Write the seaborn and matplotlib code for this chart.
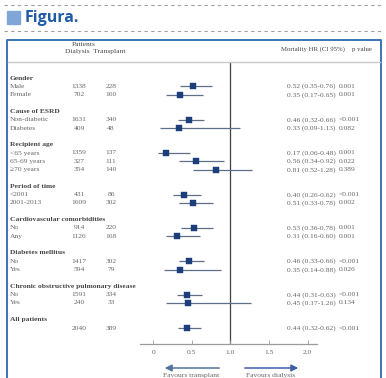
import matplotlib
matplotlib.use("Agg")
import matplotlib.pyplot as plt
import matplotlib.transforms as mtransforms
from matplotlib.patches import Rectangle, FancyArrowPatch
from matplotlib.lines import Line2D
import seaborn as sns
import pandas as pd

# ---------------- data ----------------
groups = ["Gender", "Cause of ESRD", "Recipient age", "Period of time",
          "Cardiovascular comorbidities", "Diabetes mellitus",
          "Chronic obstructive pulmonary disease", "All patients"]
group_members = [
    ["Male", "Female"],
    ["Non-diabetic", "Diabetes"],
    ["<65 years", "65-69 years", "≥70 years"],
    ["<2001", "2001-2013"],
    ["No", "Any"],
    ["No", "Yes"],
    ["No", "Yes"],
    [""],
]
dialysis_n = ["1338", "702", "1631", "409", "1359", "327", "354", "431", "1609",
              "914", "1126", "1417", "594", "1591", "240", "2040"]
transplant_n = ["228", "160", "340", "48", "137", "111", "140", "86", "302",
                "220", "168", "302", "79", "334", "33", "389"]
hr = [0.52, 0.35, 0.46, 0.33, 0.17, 0.56, 0.81, 0.40, 0.51,
      0.53, 0.31, 0.46, 0.35, 0.44, 0.45, 0.44]
ci_low = [0.35, 0.17, 0.32, 0.09, 0.06, 0.34, 0.52, 0.26, 0.33,
          0.36, 0.16, 0.33, 0.14, 0.31, 0.17, 0.32]
ci_high = [0.76, 0.65, 0.66, 1.13, 0.48, 0.92, 1.28, 0.62, 0.78,
           0.78, 0.60, 0.66, 0.88, 0.63, 1.26, 0.62]
p_values = ["0.001", "0.001", "<0.001", "0.082", "0.001", "0.022", "0.389",
            "<0.001", "0.002", "0.001", "0.001", "<0.001", "0.026",
            "<0.001", "0.134", "<0.001"]
x_ticks = [0, 0.5, 1.0, 1.5, 2.0]
x_tick_labels = ["0", "0.5", "1.0", "1.5", "2.0"]

# ---------------- layout of rows ----------------
rows = []
header_rows = []
r = 0
k = 0
for g, members in zip(groups, group_members):
    header_rows.append((g, r))
    r += 1
    for m in members:
        rows.append(dict(label=m, row=r, hr=hr[k], lo=ci_low[k], hi=ci_high[k],
                         dn=dialysis_n[k], tn=transplant_n[k], p=p_values[k]))
        r += 1
        k += 1
    r += 1
df = pd.DataFrame(rows)

W, H = 386, 378
fig = plt.figure(figsize=(W / 100, H / 100), dpi=100)
fig.patch.set_facecolor("white")

def fx(x):
    return x / W

def fy(y):
    return 1 - y / H

serif = ["Liberation Serif", "DejaVu Serif"]
txt_col = "#666666"
head_col = "#474747"
navy = "#1c3f7c"
fs = 5.4

# ---------------- page decoration ----------------
for yy in (5, 31):
    fig.add_artist(Line2D([fx(4), fx(384)], [fy(yy), fy(yy)], color="#a0a0a0",
                          lw=0.8, ls=(0, (3, 3)), transform=fig.transFigure))
fig.add_artist(Rectangle((fx(7), fy(24)), 13 / W, 13 / H, color="#7fa6d6",
                         transform=fig.transFigure))
fig.text(fx(25), fy(18), "Figura.", fontsize=11.5, fontweight="bold",
         color="#1f5ba6", va="center", ha="left", family=["Open Sans", "DejaVu Sans"])
# frame
fig.add_artist(Line2D([fx(6.5), fx(6.5), fx(381), fx(381)],
                      [fy(380), fy(40), fy(40), fy(380)], color="#3c72b8",
                      lw=1.4, transform=fig.transFigure))
fig.add_artist(Line2D([fx(8), fx(380)], [fy(62), fy(62)], color="#c8c8c8",
                      lw=1.0, transform=fig.transFigure))

# headers
fig.text(fx(84), fy(45), "Patients", fontsize=fs, color=head_col, ha="center",
         va="center", family=serif)
fig.text(fx(95), fy(52), "Dialysis  Transplant", fontsize=fs, color=head_col,
         ha="center", va="center", family=serif)
fig.text(fx(281), fy(49), "Mortality HR (CI 95%)", fontsize=4.9, color=head_col,
         ha="left", va="center", family=serif)
fig.text(fx(352), fy(49), "p value", fontsize=4.9, color=head_col,
         ha="left", va="center", family=serif)

# ---------------- forest axes ----------------
y_top_px, y_bot_px = 62, 344
row0_px, rowN_px = 78, 328
n_last = df["row"].max()
px_per_row = (rowN_px - row0_px) / n_last
ylim_top = -(row0_px - y_top_px) / px_per_row
ylim_bot = n_last + (y_bot_px - rowN_px) / px_per_row

ax = fig.add_axes([fx(140), fy(y_bot_px), (317 - 140) / W, (y_bot_px - y_top_px) / H])
ax.set_xlim(-0.17, 2.12)
ax.set_ylim(ylim_bot, ylim_top)
ax.set_facecolor("none")

ax.axvline(1.0, color="#404040", lw=0.9, zorder=1)
ax.hlines(df["row"], df["lo"], df["hi"], color="#5f6f88", lw=0.9, zorder=2)
sns.scatterplot(data=df, x="hr", y="row", marker="s", s=20, color=navy,
                edgecolor=navy, linewidth=0.3, ax=ax, zorder=3, legend=False)

for s in ("top", "right", "left"):
    ax.spines[s].set_visible(False)
ax.spines["bottom"].set_color("#9a9a9a")
ax.spines["bottom"].set_linewidth(0.9)
ax.set_yticks([])
ax.set_xticks(x_ticks)
ax.set_xticklabels(x_tick_labels, fontsize=fs, color=txt_col, family=serif)
ax.tick_params(axis="x", direction="in", length=3, width=0.6, color="#9a9a9a", pad=4)
ax.set_xlabel("")
ax.set_ylabel("")

# ---------------- table text ----------------
tr = mtransforms.blended_transform_factory(fig.transFigure, ax.transData)
for g, rr in header_rows:
    fig.text(fx(10), rr, g, transform=tr, fontsize=fs, color=head_col,
             fontweight="bold", ha="left", va="center", family=serif)
for _, d in df.iterrows():
    fig.text(fx(10), d["row"], d["label"], transform=tr, fontsize=fs, color=txt_col,
             ha="left", va="center", family=serif)
    fig.text(fx(79), d["row"], d["dn"], transform=tr, fontsize=fs, color=txt_col,
             ha="center", va="center", family=serif)
    fig.text(fx(111), d["row"], d["tn"], transform=tr, fontsize=fs, color=txt_col,
             ha="center", va="center", family=serif)
    fig.text(fx(287), d["row"], f"{d['hr']:.2f} ({d['lo']:.2f}-{d['hi']:.2f})",
             transform=tr, fontsize=fs, color=txt_col, ha="left", va="center",
             family=serif)
    fig.text(fx(339), d["row"], d["p"], transform=tr, fontsize=fs, color=txt_col,
             ha="left", va="center", family=serif)

# ---------------- arrows ----------------
fig.add_artist(FancyArrowPatch(
    (fx(222), fy(368)), (fx(162), fy(368)), transform=fig.transFigure,
    arrowstyle="-|>,head_length=4,head_width=2", color="#52729e", lw=1.1))
fig.add_artist(FancyArrowPatch(
    (fx(242), fy(368)), (fx(301), fy(368)), transform=fig.transFigure,
    arrowstyle="-|>,head_length=4,head_width=2", color="#3d5fa8", lw=1.1))
fig.text(fx(191), fy(376), "Favours transplant", fontsize=fs, color=txt_col,
         ha="center", va="center", family=serif)
fig.text(fx(271), fy(376), "Favours dialysis", fontsize=fs, color=txt_col,
         ha="center", va="center", family=serif)

fig.savefig("out.png", dpi=100)
